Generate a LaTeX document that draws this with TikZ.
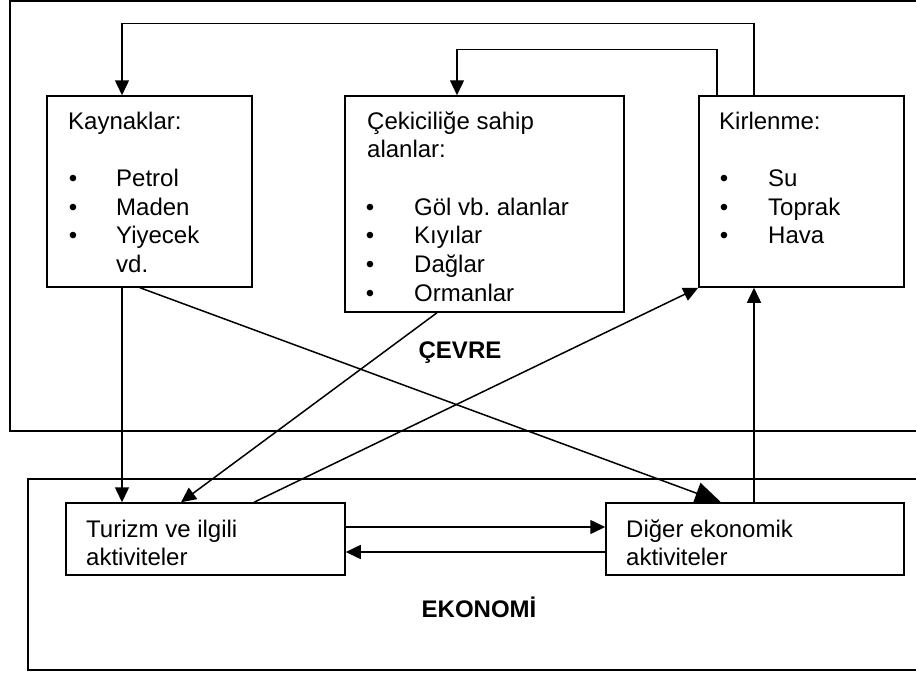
\documentclass[tikz,border=0pt]{standalone}
\usepackage{fontspec}
\setmainfont{Liberation Sans}
\usetikzlibrary{arrows.meta}
\frenchspacing
\begin{document}
\begin{tikzpicture}[x=1pt,y=-1pt,
  every node/.style={font=\fontsize{24}{29}\selectfont, inner sep=0pt},
  box/.style={draw, line width=1.5pt, fill=white, rectangle},
  txt/.style={anchor=base west},
  bul/.style={anchor=base},
  frame/.style={line width=1.5pt},
  conn/.style={line width=1.5pt, -{Triangle[length=15,width=14]}},
  bigconn/.style={line width=1.5pt, -{Triangle[length=26,width=22]}}]
\useasboundingbox (0,0) rectangle (916,675);

% outer regions
\draw[frame] (916,1) -- (10,1) -- (10,431) -- (916,431);
\draw[frame] (916,479) -- (28,479) -- (28,670) -- (916,670);

% boxes
\node[box, minimum width=205, minimum height=191] (kay) at (149.5,191.5) {};
\node[box, minimum width=279, minimum height=216] (cek) at (484.5,204) {};
\node[box, minimum width=205, minimum height=191] (kir) at (801.5,191.5) {};
\node[box, minimum width=279, minimum height=72] (tur) at (205.5,539) {};
\node[box, minimum width=298, minimum height=72] (dig) at (755,539) {};

% texts: Kaynaklar
\node[txt] (k0) at (68,129) {Kaynaklar:};
\node[bul] (kb1) at (73,186) {•};
\node[bul] (kb2) at (73,215) {•};
\node[bul] (kb3) at (73,243) {•};
\node[txt] (k1) at (116,186) {Petrol};
\node[txt] (k2) at (116,215) {Maden};
\node[txt] (k3) at (116,243) {Yiyecek};
\node[txt] (k4) at (116,272) {vd.};

% texts: Cekicilik
\node[txt] (c0) at (367,129) {Çekiciliğe sahip};
\node[txt] (c0b) at (367,157) {alanlar:};
\node[bul] (cb1) at (370,215) {•};
\node[bul] (cb2) at (370,243) {•};
\node[bul] (cb3) at (370,272) {•};
\node[bul] (cb4) at (370,301) {•};
\node[txt] (c1) at (414,215) {Göl vb. alanlar};
\node[txt] (c2) at (414,243) {Kıyılar};
\node[txt] (c3) at (414,272) {Dağlar};
\node[txt] (c4) at (414,301) {Ormanlar};

% texts: Kirlenme
\node[txt] (r0) at (719,129) {Kirlenme:};
\node[bul] (rb1) at (724,186) {•};
\node[bul] (rb2) at (724,215) {•};
\node[bul] (rb3) at (724,243) {•};
\node[txt] (r1) at (768,186) {Su};
\node[txt] (r2) at (768,215) {Toprak};
\node[txt] (r3) at (768,243) {Hava};

% texts: economy boxes
\node[txt] (t1) at (86,537) {Turizm ve ilgili};
\node[txt] (t2) at (86,565) {aktiviteler};
\node[txt] (d1) at (626,537) {Diğer ekonomik};
\node[txt] (d2) at (626,565) {aktiviteler};

% region labels
\node[anchor=base, font=\fontsize{24}{29}\selectfont\bfseries] (cevre) at (460,358) {ÇEVRE};
\node[anchor=base, font=\fontsize{24}{29}\selectfont\bfseries] (eko) at (479,617) {EKONOMİ};

% connectors
\draw[conn] ([xshift=-27.5]kay.south) -- ([xshift=-27.5]kay.south |- tur.north);
\draw[bigconn] ([xshift=-9.5]kay.south) -- ([xshift=-34]dig.north);
\draw[conn] ([xshift=-47.5]cek.south) -- ([xshift=-24.5]tur.north);
\draw[conn] ([xshift=48.5]tur.north) -- (kir.south west);
\draw[conn] ([xshift=-1]dig.north) -- ([xshift=-1]dig.north |- kir.south);
\draw[conn] ([xshift=-47.5]kir.north) -- ++(0,-72) -| ([xshift=-27.5]kay.north);
\draw[conn, line width=1.3pt] ([xshift=-84.5]kir.north) -- ++(0,-46) -| ([xshift=-27.5]cek.north);
\draw[conn] ([yshift=12]tur.east) -- ([yshift=12]dig.west);
\draw[conn] ([yshift=-13]dig.west) -- ([yshift=-13]tur.east);
\end{tikzpicture}
\end{document}
